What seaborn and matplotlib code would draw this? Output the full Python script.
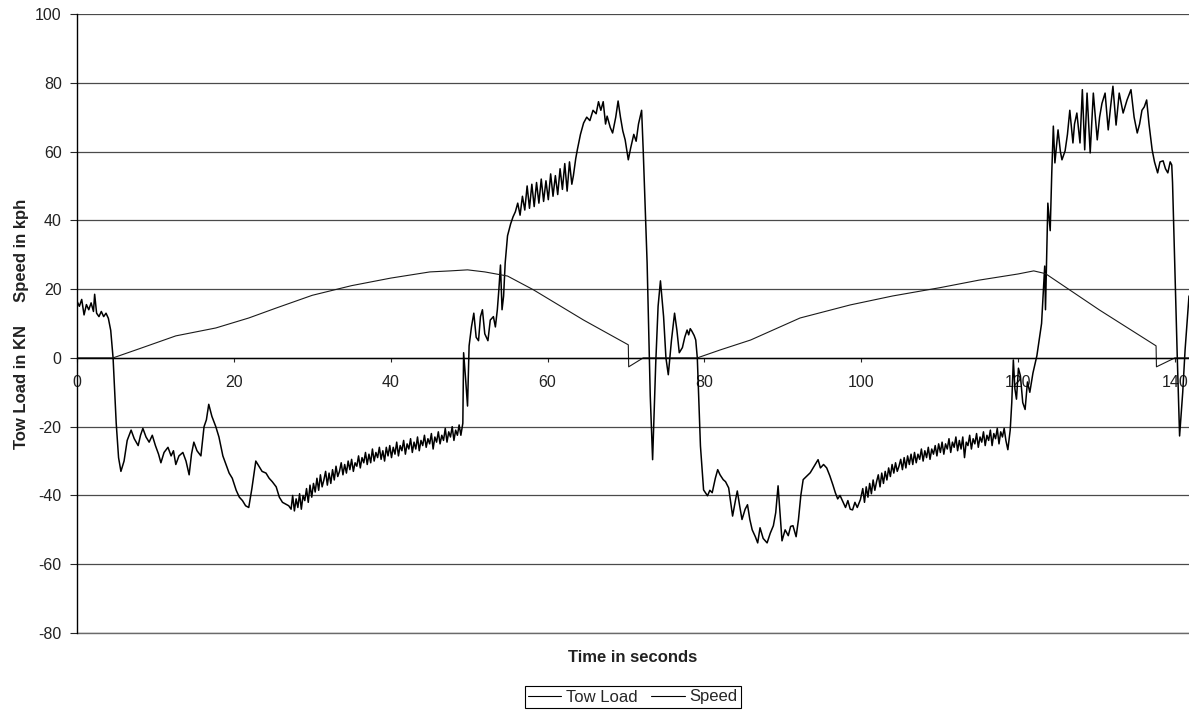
import numpy as np
import pandas as pd
import matplotlib
matplotlib.use("Agg")
import matplotlib.pyplot as plt
import seaborn as sns

# Tow load record (kN) against time (s), stored in pieces.
# Pieces with irregular sample times
load_a_t = [
    0.0, 0.3, 0.6, 0.9, 1.2, 1.5, 1.8, 2.1, 2.25, 2.5, 2.8, 3.1, 3.4, 3.7, 4.0, 4.3, 4.6,
    5.0, 5.3, 5.6, 6.0, 6.4, 6.9, 7.3, 7.8, 8.1, 8.4, 8.8, 9.2, 9.6, 10.0, 10.4, 10.7,
    11.1, 11.6, 12.0, 12.3, 12.6, 13.0, 13.5, 13.9, 14.3, 14.6, 14.9, 15.3, 15.8, 16.2,
    16.5, 16.8, 17.2, 17.7, 18.1, 18.6, 19.0, 19.4, 19.8, 20.3, 20.7, 21.1, 21.5, 21.9,
    22.3, 22.8, 23.2, 23.6, 24.1, 24.5, 24.9, 25.4, 25.8, 26.2, 26.6, 27.0, 27.3,
]
load_a_kn = [
    16.5, 15, 17, 12.5, 15.5, 14, 16, 13.5, 18.5, 13, 12, 13.5, 12, 13, 11.5, 8, 0,
    -19, -29, -33, -30, -24, -21, -23.5, -25.5, -22.5, -20.5, -23, -24.5, -22.5, -25.5, -28, -30.5,
    -27.5, -26, -28.5, -27, -31, -28.5, -27.5, -30, -34, -28, -24.5, -27, -28.5, -20,
    -18, -13.5, -17, -20, -23, -28.5, -31, -33.5, -35, -38.5, -40.5, -41.5, -43, -43.5,
    -38, -30, -31.5, -33, -33.5, -35, -36, -37.5, -40.5, -42, -42.5, -43, -44,
]

# evenly sampled stretch, 27.5 s to 48.95 s
load_b_kn = [
    -40, -44.5, -41, -43.5, -39.5, -44, -40, -41.5, -38, -42, -37, -40.5, -36.5, -39,
    -35, -38.5, -34, -37.5, -35.5, -33, -37, -33.5, -36.5, -32.5, -35.5, -31.5, -34.5, -33,
    -30.5, -34, -31, -33.5, -30, -32.5, -29.5, -33, -30.5, -31.5, -28.5, -32, -29, -30.5,
    -27.5, -31, -28, -30.5, -26.5, -30, -27.5, -29, -26, -29.5, -27, -30, -26, -28.5,
    -25.5, -29, -26, -28, -24.5, -28.5, -25.5, -27, -24, -28, -25, -26.5, -23.5, -27.5,
    -24.5, -26.5, -23, -27, -24, -25.5, -22.5, -26, -23.5, -25, -22, -26.5, -23, -24.5,
    -21.5, -25, -22.5, -24, -20.5, -24.5, -21.5, -23, -20, -24, -21, -22.5, -19.5, -22.5,
]
load_b_span = (27.5, 48.95)

load_c_t = [
    49.2, 49.3, 49.55, 49.8, 50.0, 50.3, 50.6, 50.9, 51.2, 51.45, 51.7, 52.0, 52.4, 52.7,
    53.1, 53.35, 53.6, 53.8, 54.0, 54.2, 54.4, 54.6, 54.9, 55.3, 55.6, 55.9,
    56.2, 56.5, 56.8, 57.1, 57.4, 57.7, 58.0, 58.3, 58.6, 58.9, 59.2, 59.5, 59.8, 60.1,
    60.4, 60.7, 61.0, 61.3, 61.6, 61.9, 62.2, 62.5, 62.8, 63.1, 63.3, 63.6, 63.8,
    64.2, 64.6, 65.0, 65.4, 65.8, 66.2, 66.5, 66.8, 67.1, 67.4, 67.6, 68.0, 68.3, 68.7,
    69.0, 69.3, 69.6, 69.9, 70.3, 70.6, 71.0, 71.3, 71.6, 72.0, 72.2, 72.7, 73.1, 73.4,
    73.8, 74.1, 74.4, 74.8, 75.1, 75.4, 75.8, 76.2, 76.5, 76.8, 77.2, 77.5, 77.8, 78.0,
    78.2, 78.4, 78.7, 78.9, 79.1, 79.5, 79.9, 80.4, 80.7, 81.0, 81.4, 81.7, 82.0, 82.4,
    82.7, 83.1, 83.6, 84.0, 84.2, 84.5, 84.8, 85.2, 85.5, 85.8, 86.1, 86.5, 86.8, 87.1,
    87.5, 88.0, 88.4, 88.8, 89.1, 89.4, 89.7, 89.9, 90.3, 90.7, 91.0, 91.3, 91.7, 92.0,
    92.3, 92.6, 93.0, 93.5, 94.0, 94.5, 94.8, 95.2, 95.6, 96.0, 96.4, 96.7, 97.0, 97.3,
    97.7, 98.0, 98.3, 98.6, 98.9, 99.2, 99.5, 99.9,
]
load_c_kn = [
    -19, 1.5, -6, -14, 3.5, 9, 13, 6, 5, 12, 14, 7, 5, 11,
    12, 9, 14, 20, 27, 14, 18, 27.6, 35.5, 39, 41, 42.5,
    45, 41.5, 47, 43, 50, 43.5, 50.5, 44, 51, 45, 52, 45.5, 51.5, 46,
    53.5, 47, 53, 47.5, 55, 49, 56.5, 48.5, 57, 50.5, 53, 58, 60.5,
    65, 68.3, 70, 69, 72, 71, 74.5, 72, 74.5, 68, 70.3, 67, 65.4, 70,
    74.7, 70, 66, 63.4, 57.6, 61, 65, 63, 68, 72, 60.5, 27.6, -11, -29.6,
    -1.5, 15, 22.4, 12, 0, -4.9, 5, 13, 8, 1.5, 3, 6, 8.1, 6.7,
    8.5, 7.8, 6.5, 5.2, 0, -25.6, -38.4, -40.1, -38.5, -39.2, -35, -32.5, -34, -35.4,
    -36, -37.8, -46, -41, -38.7, -43, -47, -44, -42.7, -47, -50, -52, -53.8, -49.4,
    -52.5, -53.8, -51, -48.8, -45, -37.2, -47, -53.2, -50, -51.7, -49, -48.8, -52, -47,
    -40, -35.4, -34.5, -33.4, -31.5, -29.6, -32, -31, -32, -34.3, -37, -39.2, -41, -40,
    -42, -43.5, -41.5, -44, -44.2, -42, -43.5, -41.2,
]

# evenly sampled stretch, 100.2 s to 118.45 s
load_d_kn = [
    -38, -42, -37.5, -40.5, -36.5, -39.5, -35.5, -38.5, -36, -34, -37.5, -33.5, -36.5, -33,
    -35.5, -32, -34.5, -31, -33.5, -30.5, -33, -31.5, -29.5, -32.5, -29, -32, -28.5, -31,
    -28, -31, -27.5, -30.5, -28, -29.5, -26.5, -30, -27, -29, -26, -29.5, -26.5, -28,
    -25.5, -28.5, -25, -27.5, -24.5, -28, -25, -26.5, -23.5, -27.5, -24.5, -26, -23, -27,
    -24, -26.5, -23, -29, -24.5, -25.5, -22.5, -26.5, -23.5, -25, -22, -26, -23, -24.5,
    -21.5, -25.5, -22.5, -24, -21, -25.5, -22, -23.5, -20.5, -25, -21.5, -23, -20.5, -24,
]
load_d_span = (100.2, 118.45)

load_e_t = [
    118.7, 119.0, 119.2, 119.4, 119.6, 119.8, 120.05, 120.3, 120.6, 120.9, 121.2, 121.5, 121.9,
    122.4, 123.0, 123.4, 123.5, 123.8, 124.1, 124.3, 124.5, 124.7, 125.1, 125.4, 125.6,
    126.0, 126.3, 126.6, 127.0, 127.2, 127.5, 127.9, 128.2, 128.5, 128.8, 129.2, 129.6,
    130.1, 130.4, 130.7, 131.1, 131.5, 131.8, 132.1, 132.5, 132.9, 133.4, 133.9, 134.4,
    134.8, 135.2, 135.5, 135.8, 136.1, 136.4, 136.7, 137.1, 137.4, 137.8, 138.1, 138.5,
    138.8, 139.1, 139.4, 139.6, 139.7, 140.3, 140.6, 141.0, 141.3, 141.8,
]
load_e_kn = [
    -26.7, -21, -13, -0.6, -9, -12, -3, -5.2, -13, -15, -7, -10, -4.4,
    0.6, 10, 26.7, 14, 45, 37, 53.8, 67.4, 56.7, 66.3, 60, 57.6,
    60.2, 65, 72, 62.5, 68, 71.2, 62.5, 78, 60.5, 77, 59.6, 77,
    63.4, 70, 74, 77, 66.3, 73, 79, 67.7, 77, 71.2, 75, 78,
    70, 65.4, 68, 72, 73, 75, 68, 60.5, 57, 53.8, 57, 57.3,
    55, 53.8, 57, 56.1, 51, 0.6, -22.7, -10, 2.3, 18,
]

# Vehicle speed (kph) against time (s)
speed_t = [0, 4.6, 8, 12.6, 17.7, 21.9, 25.4, 30, 35, 40, 45, 47.6, 49.8, 52, 54.9,
           58.2, 64.6, 70.3, 70.35, 72.2, 79.1, 82, 85.9, 92.2, 98.6, 104, 110, 115,
           120, 122, 123.5, 130.4, 137.6, 137.65, 140, 141.8]
speed_kph = [0, 0, 2.7, 6.4, 8.7, 11.6, 14.5, 18.2, 21, 23.2, 25, 25.3, 25.6, 25, 23.8,
             19.8, 11, 3.8, -2.6, 0, 0, 2.3, 5.2, 11.6, 15.4, 18, 20.4, 22.6,
             24.4, 25.3, 24.5, 13.9, 3.5, -2.6, 0, 0]

x_ticks = [0, 20, 40, 60, 80, 100, 120, 140]
y_ticks = [-80, -60, -40, -20, 0, 20, 40, 60, 80, 100]

load_b_t = np.linspace(load_b_span[0], load_b_span[1], len(load_b_kn))
load_d_t = np.linspace(load_d_span[0], load_d_span[1], len(load_d_kn))
load_df = pd.DataFrame({
    "t": np.concatenate([load_a_t, load_b_t, load_c_t, load_d_t, load_e_t]),
    "v": np.concatenate([load_a_kn, load_b_kn, load_c_kn, load_d_kn, load_e_kn]),
})
speed_df = pd.DataFrame({"t": speed_t, "v": speed_kph})

sns.set_style("white")
plt.rcParams["font.family"] = ["Liberation Sans", "DejaVu Sans"]
plt.rcParams["axes.unicode_minus"] = False

W, H = 1189, 711
fig = plt.figure(figsize=(W / 100, H / 100), dpi=100)
ax_left, ax_bottom, ax_top = 77, 78, 697
ax = fig.add_axes([ax_left / W, ax_bottom / H, (W - ax_left) / W, (ax_top - ax_bottom) / H])

sns.lineplot(data=load_df, x="t", y="v", ax=ax, color="black", lw=1.1,
             estimator=None, sort=False, label="Tow Load")
sns.lineplot(data=speed_df, x="t", y="v", ax=ax, color="#1a1a1a", lw=0.8,
             estimator=None, sort=False, label="Speed")

ax.set_xlim(0, 141.8)
ax.set_ylim(-80, 100)
ax.set_xticks(x_ticks)
ax.set_yticks(y_ticks)

# horizontal gridlines, with the lowest one kept fully visible
ax.yaxis.grid(True, color="#4a4a4a", lw=0.9)
ax.xaxis.grid(False)
ax.set_axisbelow(True)
ax.axhline(-80, color="#6a6a6a", lw=1.0, clip_on=False, zorder=0.5)

for s in ["top", "right"]:
    ax.spines[s].set_visible(False)
ax.spines["left"].set_color("black")
ax.spines["left"].set_linewidth(1.0)
ax.spines["bottom"].set_position(("data", 0))
ax.spines["bottom"].set_color("black")
ax.spines["bottom"].set_linewidth(1.0)

ax.tick_params(axis="y", direction="out", length=5, width=0.8, pad=6,
               labelsize=11.5, labelcolor="#222222", left=True)
ax.tick_params(axis="x", direction="out", length=3, width=0.8, pad=9,
               labelsize=11.5, labelcolor="#222222", bottom=True)

ax.set_xlabel("")
ax.set_ylabel("")
fig.text(22 / W, 0.5 * (ax_bottom + ax_top) / H, "Tow Load in KN     Speed in kph",
         rotation=90, ha="center", va="center", fontsize=12, fontweight="bold",
         color="#222222")
fig.text((ax_left + W) / 2 / W, (H - 657) / H, "Time in seconds",
         ha="center", va="center", fontsize=12, fontweight="bold", color="#222222")

ax.get_legend().remove()
handles, labels = ax.get_legend_handles_labels()
leg = fig.legend(handles, labels, loc="center",
                 bbox_to_anchor=((ax_left + W) / 2 / W, (H - 697) / H),
                 ncol=2, frameon=True, fancybox=False, framealpha=1,
                 edgecolor="black", fontsize=12, handlelength=2.0,
                 handletextpad=0.3, columnspacing=0.8, borderpad=0.2,
                 borderaxespad=0)
leg.get_frame().set_linewidth(0.8)
for line in leg.get_lines():
    line.set_linewidth(0.8)
    line.set_color("black")

fig.savefig("out.png", dpi=100)
